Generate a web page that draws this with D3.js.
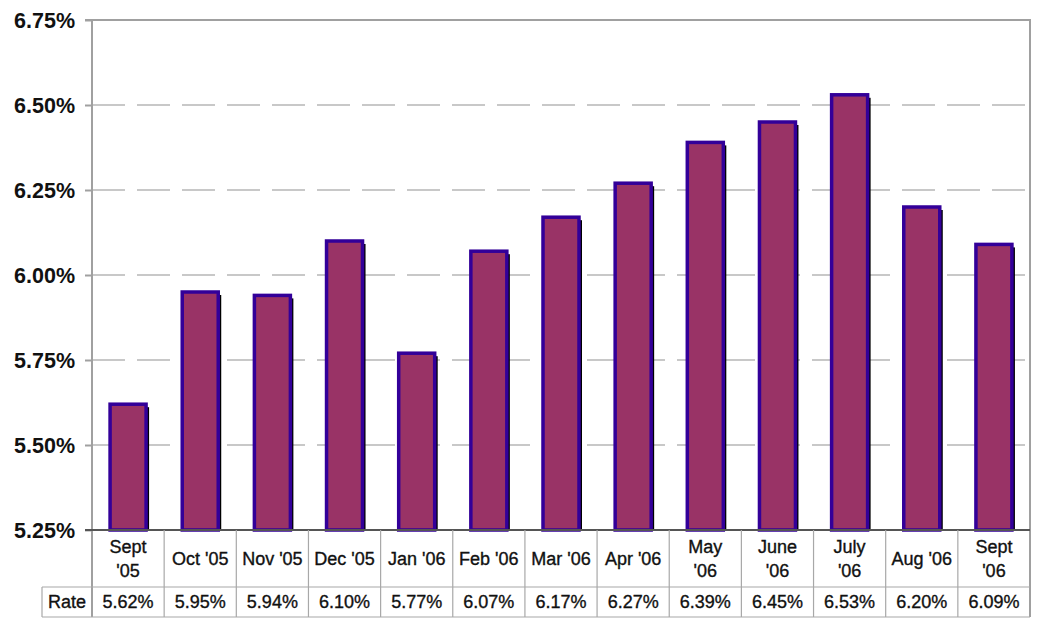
<!DOCTYPE html>
<html><head><meta charset="utf-8">
<script src="https://cdn.jsdelivr.net/npm/d3@7"></script>
<style>body{margin:0;background:#fff}svg{display:block}text{font-family:"Liberation Sans",Arial,sans-serif}</style>
</head><body><svg id="c" width="1038" height="620"></svg>
<script>
const categories = [["Sept","'05"],["Oct '05"],["Nov '05"],["Dec '05"],["Jan '06"],["Feb '06"],["Mar '06"],["Apr '06"],["May","'06"],["June","'06"],["July","'06"],["Aug '06"],["Sept","'06"]];
const rates = [5.62,5.95,5.94,6.10,5.77,6.07,6.17,6.27,6.39,6.45,6.53,6.20,6.09];
const rateLabels = ["5.62%","5.95%","5.94%","6.10%","5.77%","6.07%","6.17%","6.27%","6.39%","6.45%","6.53%","6.20%","6.09%"];
const yTicks = [5.25,5.50,5.75,6.00,6.25,6.50,6.75];
const rowLabel = "Rate";

const svg = d3.select("#c");
const L=92, R=1030, T=20, B=530, catBottom=587, rateBottom=617, tableLeft=42;
const idx = categories.map((d,i)=>i);
const x = d3.scaleBand().domain(idx).range([L,R]).paddingInner(0).paddingOuter(0);
const y = d3.scaleLinear().domain([5.25,6.75]).range([B,T]);

// gridlines
svg.append("g").selectAll("line").data(yTicks.filter(t=>t>5.25 && t<6.75)).join("line")
  .attr("x1",L).attr("x2",R).attr("y1",d=>y(d)).attr("y2",d=>y(d))
  .attr("stroke","#c8c8c8").attr("stroke-width",2).attr("stroke-dasharray","33,12");

// top and right border
svg.append("line").attr("x1",L-7).attr("x2",R+1).attr("y1",y(6.75)).attr("y2",y(6.75)).attr("stroke","#a0a0a0").attr("stroke-width",2);
svg.append("line").attr("x1",R).attr("x2",R).attr("y1",T).attr("y2",rateBottom).attr("stroke","#a0a0a0").attr("stroke-width",2);

// bars
const bw = 36;
const bars = svg.append("g");
bars.selectAll("rect.sh").data(rates).join("rect").attr("class","sh")
  .attr("x",(d,i)=>x(i)+x.bandwidth()/2-bw/2+3).attr("y",d=>y(d)+3)
  .attr("width",bw).attr("height",d=>B-y(d)-3).attr("fill","#000");
bars.selectAll("rect.b").data(rates).join("rect").attr("class","b")
  .attr("x",(d,i)=>x(i)+x.bandwidth()/2-bw/2).attr("y",d=>y(d))
  .attr("width",bw).attr("height",d=>B-y(d)).attr("fill","#993366")
  .attr("stroke","#330099").attr("stroke-width",3.5);

// y axis
const yAxis = d3.axisLeft(y).tickValues(yTicks).tickSize(7).tickFormat(d=>d3.format(".2f")(d)+"%");
const ga = svg.append("g").attr("transform",`translate(${L},0)`).call(yAxis);
ga.select(".domain").remove();
ga.selectAll(".tick line").attr("stroke","#a0a0a0").attr("stroke-width",2);
ga.selectAll(".tick text").attr("x",-17).attr("font-size",21.5).attr("font-weight","bold").attr("fill","#111").attr("dy","0.35em");
svg.append("line").attr("x1",L).attr("x2",L).attr("y1",T).attr("y2",rateBottom).attr("stroke","#a0a0a0").attr("stroke-width",2);

// x axis line
svg.append("line").attr("x1",L-7).attr("x2",R).attr("y1",B).attr("y2",B).attr("stroke","#555").attr("stroke-width",2);

// table
const tg = svg.append("g");
tg.selectAll("line.v").data(idx.slice(1)).join("line").attr("class","v")
  .attr("x1",d=>x(d)).attr("x2",d=>x(d)).attr("y1",B).attr("y2",rateBottom).attr("stroke","#a8a8a8").attr("stroke-width",1.2);
tg.append("line").attr("x1",tableLeft).attr("x2",R).attr("y1",catBottom).attr("y2",catBottom).attr("stroke","#a8a8a8").attr("stroke-width",1.2);
tg.append("line").attr("x1",tableLeft).attr("x2",R).attr("y1",rateBottom).attr("y2",rateBottom).attr("stroke","#a8a8a8").attr("stroke-width",1.2);
tg.append("line").attr("x1",tableLeft).attr("x2",tableLeft).attr("y1",catBottom).attr("y2",rateBottom).attr("stroke","#a8a8a8").attr("stroke-width",1.2);

const mid = (B+catBottom)/2;
tg.selectAll("text.cat").data(categories).join("text").attr("class","cat")
  .attr("x",(d,i)=>x(i)+x.bandwidth()/2).attr("text-anchor","middle")
  .attr("font-size",18).attr("fill","#111").attr("stroke","#111").attr("stroke-width",0.35)
  .each(function(d){
    const t=d3.select(this);
    d.forEach((s,k)=>{
      t.append("tspan").attr("x",t.attr("x")).attr("y", mid + (k-(d.length-1)/2)*24).attr("dy","0.35em").text(s);
    });
  });
const rmid = (catBottom+rateBottom)/2;
tg.selectAll("text.rate").data(rateLabels).join("text").attr("class","rate")
  .attr("x",(d,i)=>x(i)+x.bandwidth()/2).attr("y",rmid).attr("dy","0.35em")
  .attr("text-anchor","middle").attr("font-size",18).attr("fill","#111").attr("stroke","#111").attr("stroke-width",0.35).text(d=>d);
tg.append("text").attr("x",(tableLeft+L)/2).attr("y",rmid).attr("dy","0.35em").attr("text-anchor","middle")
  .attr("font-size",18).attr("fill","#111").attr("stroke","#111").attr("stroke-width",0.35).text(rowLabel);
</script></body></html>
